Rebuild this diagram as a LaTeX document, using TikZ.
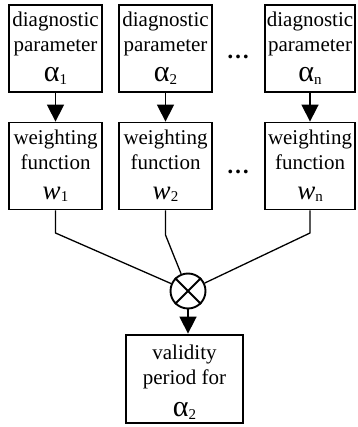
\documentclass[tikz,border=0pt]{standalone}
\usepackage{fontspec}
\setmainfont{Liberation Serif}
\usetikzlibrary{arrows.meta}

% indexed symbols: big alpha / italic w with a small upright index
\newcommand{\alp}[1]{{\fontsize{30}{24}\selectfont α\raisebox{-3pt}{\fontsize{15}{15}\selectfont #1}}}
\newcommand{\wfn}[1]{{\fontsize{27}{24}\selectfont\itshape w\raisebox{-2pt}{\upshape\fontsize{15}{15}\selectfont #1}}}

\begin{document}
\begin{tikzpicture}[x=1pt,y=1pt,
    blockbox/.style={draw, line width=1.8pt, minimum width=93pt, minimum height=87pt,
        align=center, inner sep=0pt, font=\fontsize{21}{24.5}\selectfont},
    resbox/.style={blockbox, line width=2.8pt, minimum width=117pt, minimum height=88pt},
    flowarrow/.style={-{Triangle[length=17pt,width=17pt]}, line width=1.6pt},
    link/.style={line width=1.3pt},
    dotsnode/.style={anchor=base, inner sep=0pt, font=\fontsize{23}{24}\selectfont\bfseries}]

\useasboundingbox (0,0) rectangle (357,427);

\node[blockbox] (p1) at (55.5,378.5) {diagnostic\\parameter\\[6pt]\alp{1}};
\node[blockbox] (p2) at (165.5,378.5) {diagnostic\\parameter\\[6pt]\alp{2}};
\node[blockbox, minimum width=90pt] (p3) at (310,378.5) {diagnostic\\parameter\\[6pt]\alp{n}};

\node[blockbox] (w1) at (55.5,261) {weighting\\function\\[6pt]\wfn{1}};
\node[blockbox] (w2) at (165.5,261) {weighting\\function\\[6pt]\wfn{2}};
\node[blockbox, minimum width=90pt] (w3) at (310,261) {weighting\\function\\[6pt]\wfn{n}};

\node[dotsnode] (d1) at (238,368.5) {\ldots};
\node[dotsnode] (d2) at (238,253.5) {\ldots};

\node[circle, draw, line width=1.9pt, minimum size=35pt, inner sep=0pt] (mul) at (188,136) {};
\draw[line width=1.9pt] (mul.north west) -- (mul.south east) (mul.north east) -- (mul.south west);

\node[resbox] (res) at (184.5,48) {\rule{0pt}{22pt}validity\\period for\\[8pt]\alp{2}};

\coordinate (b1) at (55.5,194);
\coordinate (b2) at (165.5,192);
\coordinate (b3) at (310,194);

\draw[flowarrow] (p1) -- (w1);
\draw[flowarrow] (p2) -- (w2);
\draw[flowarrow] (p3) -- (w3);

\draw[link] (w1) -- (b1) -- (mul);
\draw[link] (w2) -- (b2) -- (mul);
\draw[link] (w3) -- (b3) -- (mul);

\draw[flowarrow] (mul) -- (mul |- res.north);

\end{tikzpicture}
\end{document}
